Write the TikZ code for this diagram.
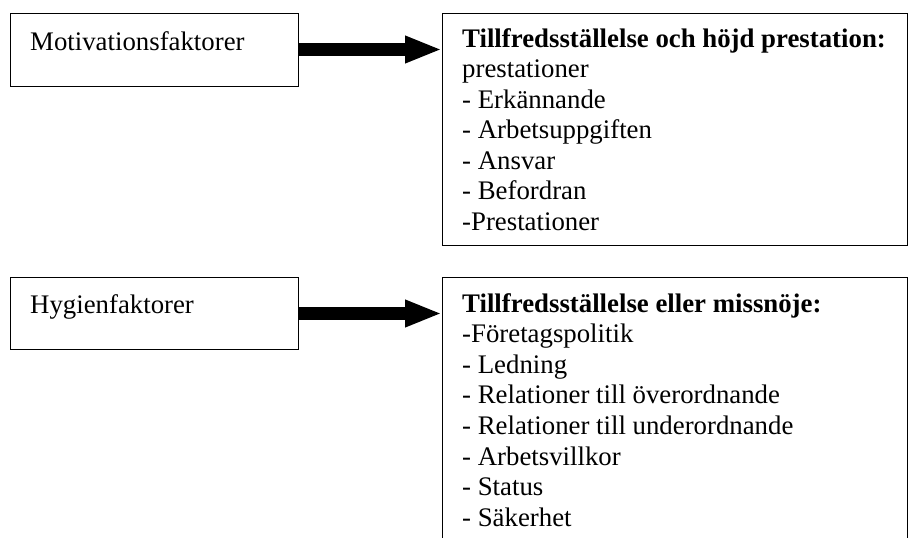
\documentclass[tikz,border=0pt]{standalone}
\usepackage{fontspec}
\setmainfont{Liberation Serif}
\usetikzlibrary{arrows.meta}
\begin{document}
\begin{tikzpicture}[x=1pt,y=-1pt,
  box/.style={draw=black,line width=1.1pt,inner sep=0pt,anchor=north west},
  lbl/.style={inner sep=0pt,anchor=base west,font=\fontsize{26.8}{30.6}\selectfont},
  fatarrow/.style={line width=13pt,-{Triangle[length=37pt,width=25pt]}}]
\useasboundingbox (0,0) rectangle (908,538);
\clip (0,0) rectangle (908,538);
% top row
\node[box,minimum width=288pt,minimum height=73pt] (mot) at (10,13) {};
\node[box,minimum width=465pt,minimum height=232pt] (res1) at (442,13) {};
\node[lbl] (motl) at (30,50) {Motivationsfaktorer};
\node[lbl] (res1l) at (462,47) {\begin{tabular}[t]{@{}l@{}}
\textbf{Tillfredsställelse och höjd prestation:}\\
prestationer\\
- Erkännande\\
- Arbetsuppgiften\\
- Ansvar\\
- Befordran\\
-Prestationer
\end{tabular}};
\coordinate (a1) at (298,49.5);
\draw[fatarrow] (a1) -- (a1 -| res1.west);
% bottom row
\node[box,minimum width=288pt,minimum height=72pt] (hyg) at (10,277) {};
\node[box,minimum width=465pt,minimum height=280pt] (res2) at (442,277) {};
\node[lbl] (hygl) at (30,313) {Hygienfaktorer};
\node[lbl] (res2l) at (462,312) {\begin{tabular}[t]{@{}l@{}}
\textbf{Tillfredsställelse eller missnöje:}\\
-Företagspolitik\\
- Ledning\\
- Relationer till överordnande\\
- Relationer till underordnande\\
- Arbetsvillkor\\
- Status\\
- Säkerhet
\end{tabular}};
\coordinate (a2) at (298,313.5);
\draw[fatarrow] (a2) -- (a2 -| res2.west);
\end{tikzpicture}
\end{document}
